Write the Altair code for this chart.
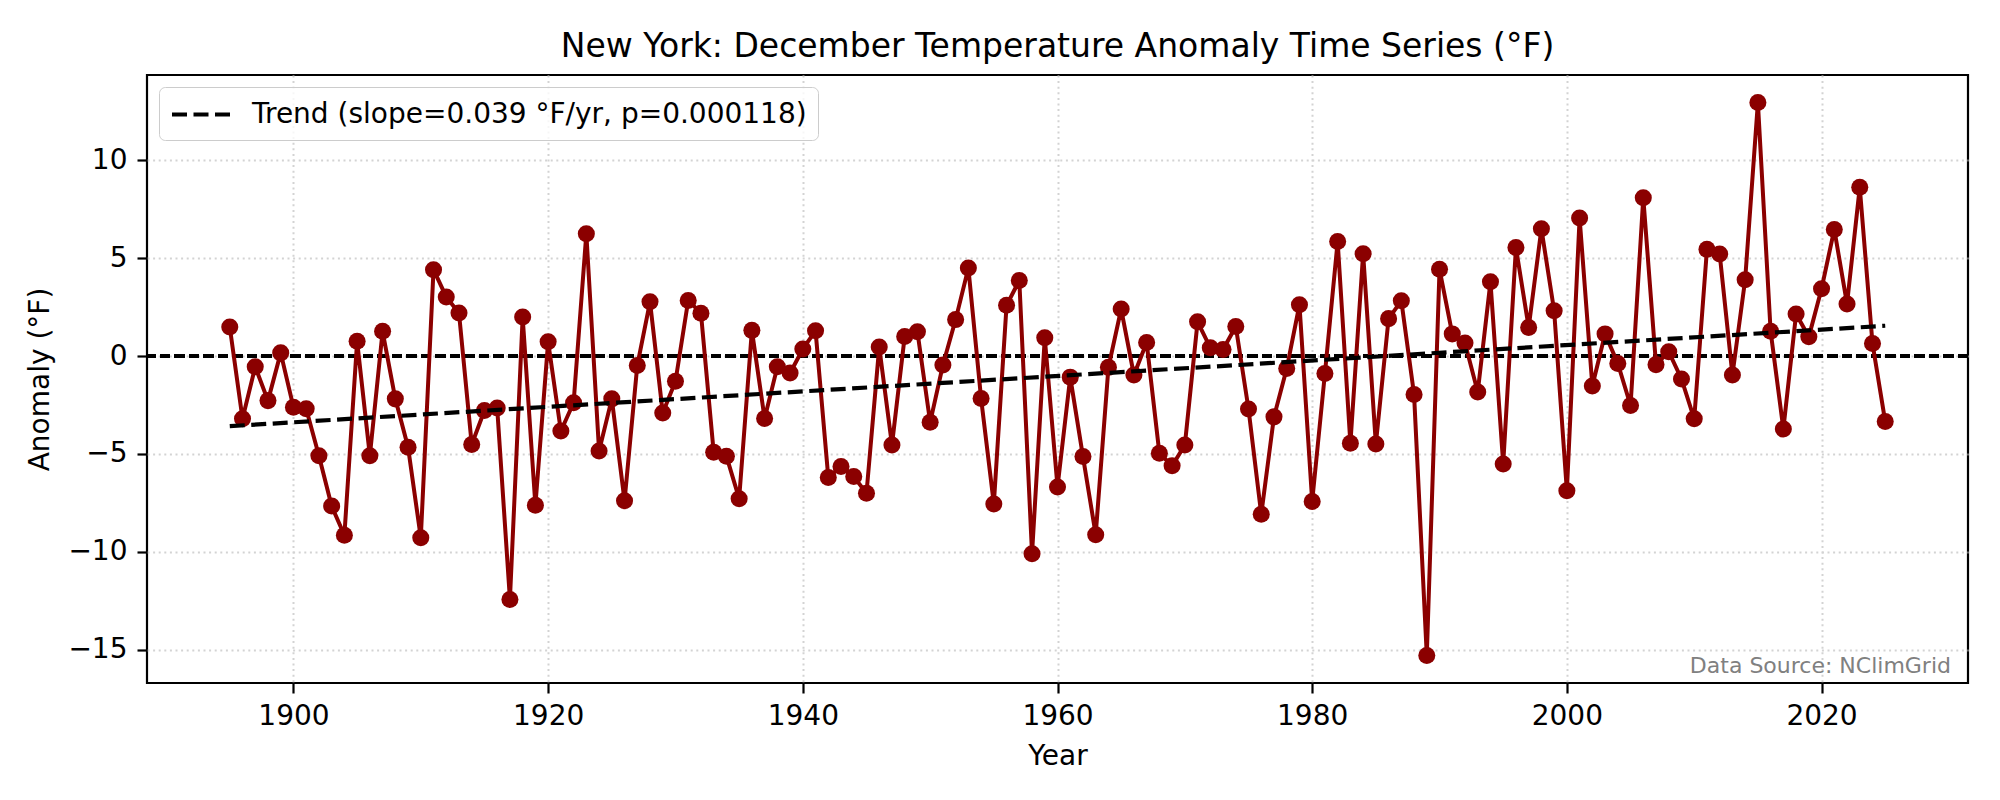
import altair as alt
import pandas as pd

years = list(range(1895, 2026))
anomaly = [
    1.48, -3.21, -0.55, -2.28, 0.16,                                   # 1895-1899
    -2.62, -2.70, -5.10, -7.67, -9.16, 0.75, -5.10, 1.26, -2.19, -4.66,  # 1900s
    -9.29, 4.41, 3.02, 2.20, -4.52, -2.79, -2.66, -12.44, 1.99, -7.63,   # 1910s
    0.73, -3.83, -2.39, 6.25, -4.85, -2.19, -7.40, -0.49, 2.77, -2.91,   # 1920s
    -1.29, 2.84, 2.19, -4.92, -5.12, -7.29, 1.31, -3.19, -0.55, -0.87,   # 1930s
    0.36, 1.29, -6.21, -5.65, -6.16, -7.01, 0.46, -4.55, 1.00, 1.24,     # 1940s
    -3.39, -0.46, 1.86, 4.50, -2.17, -7.56, 2.59, 3.86, -10.11, 0.93,    # 1950s
    -6.69, -1.08, -5.14, -9.13, -0.58, 2.40, -0.97, 0.69, -4.97, -5.61,  # 1960s
    -4.55, 1.75, 0.42, 0.33, 1.51, -2.71, -8.09, -3.11, -0.64, 2.62,     # 1970s
    -7.43, -0.89, 5.85, -4.46, 5.23, -4.50, 1.91, 2.82, -1.97, -15.30,   # 1980s
    4.43, 1.13, 0.66, -1.84, 3.79, -5.52, 5.54, 1.46, 6.50, 2.31,        # 1990s
    -6.89, 7.05, -1.53, 1.13, -0.38, -2.53, 8.09, -0.44, 0.22, -1.17,    # 2000s
    -3.21, 5.45, 5.21, -0.97, 3.90, 12.95, 1.26, -3.73, 2.15, 0.98,      # 2010s
    3.44, 6.47, 2.66, 8.62, 0.64, -3.35,                                 # 2020s
]
x_ticks = [1900, 1920, 1940, 1960, 1980, 2000, 2020]
y_ticks = [-15, -10, -5, 0, 5, 10]
trend_label = "Trend (slope=0.039 °F/yr, p=0.000118)"
title_text = "New York: December Temperature Anomaly Time Series (°F)"
source_text = "Data Source: NClimGrid"

df = pd.DataFrame({"Year": years, "Anomaly": anomaly})

W, H = 1821, 608
FONT = "DejaVu Sans"
RED = "#8b0000"

xscale = alt.Scale(domain=[1888.5, 2031.5], nice=False, zero=False)
yscale = alt.Scale(domain=[-16.71, 14.36], nice=False, zero=False)

xax = alt.Axis(values=x_ticks, format="d", title="Year", grid=True)
yax = alt.Axis(values=y_ticks, title="Anomaly (°F)", grid=True)

base = alt.Chart(df)

zero = base.mark_rule(color="black", strokeWidth=2.6, strokeDash=[10, 4.5]).encode(
    y=alt.datum(0, scale=yscale, axis=yax)
)

line = base.mark_line(color=RED, strokeWidth=4).encode(
    x=alt.X("Year:Q", scale=xscale, axis=xax),
    y=alt.Y("Anomaly:Q", scale=yscale, axis=yax),
)

points = base.mark_circle(color=RED, size=290, opacity=1).encode(
    x=alt.X("Year:Q", scale=xscale),
    y=alt.Y("Anomaly:Q", scale=yscale),
)

trend = (
    base.transform_regression("Year", "Anomaly")
    .transform_calculate(series=f"'{trend_label}'")
    .mark_line(strokeWidth=4.2, strokeDash=[15, 6.5])
    .encode(
        x=alt.X("Year:Q", scale=xscale),
        y=alt.Y("Anomaly:Q", scale=yscale),
        color=alt.Color(
            "series:N",
            scale=alt.Scale(domain=[trend_label], range=["black"]),
            legend=alt.Legend(
                title=None,
                orient="top-left",
                offset=12,
                symbolType="M-1,0H3",
                symbolSize=841,
                symbolStrokeWidth=4,
                symbolDash=[15, 6.5],
                symbolFillColor="transparent",
                labelOffset=49,
                labelFontSize=28,
                labelFont=FONT,
                labelColor="black",
                labelLimit=2000,
                padding=11,
                strokeColor="#cccccc",
                fillColor="rgba(255,255,255,0.8)",
                cornerRadius=6,
            ),
        ),
    )
)

source = alt.Chart(pd.DataFrame({"t": [source_text]})).mark_text(
    align="right", baseline="alphabetic", fontSize=22, font=FONT, color="#808080"
).encode(
    text="t:N",
    x=alt.value(W - 17),
    y=alt.value(H - 10),
)

chart = (
    alt.layer(zero, line, points, trend, source)
    .properties(
        width=W,
        height=H,
        title=alt.TitleParams(
            title_text,
            fontSize=33,
            font=FONT,
            fontWeight="normal",
            color="black",
            anchor="middle",
            baseline="alphabetic",
            offset=-15,
        ),
        padding={"left": 139, "top": 67, "right": 10, "bottom": 100},
        autosize="none",
    )
    .configure_view(stroke="black", strokeWidth=2.2)
    .configure_axis(
        labelFont=FONT,
        titleFont=FONT,
        labelFontSize=28,
        titleFontSize=28,
        titleFontWeight="normal",
        labelColor="black",
        titleColor="black",
        domain=False,
        tickColor="black",
        tickWidth=2.2,
        tickSize=10,
        gridColor="#d3d3d3",
        gridDash=[2, 3.6],
        gridWidth=2,
    )
    .configure_axisX(labelPadding=9, titlePadding=12)
    .configure_axisY(labelPadding=10, titlePadding=13)
)

chart.save("out.html", embed_options={"renderer": "svg", "actions": False})
